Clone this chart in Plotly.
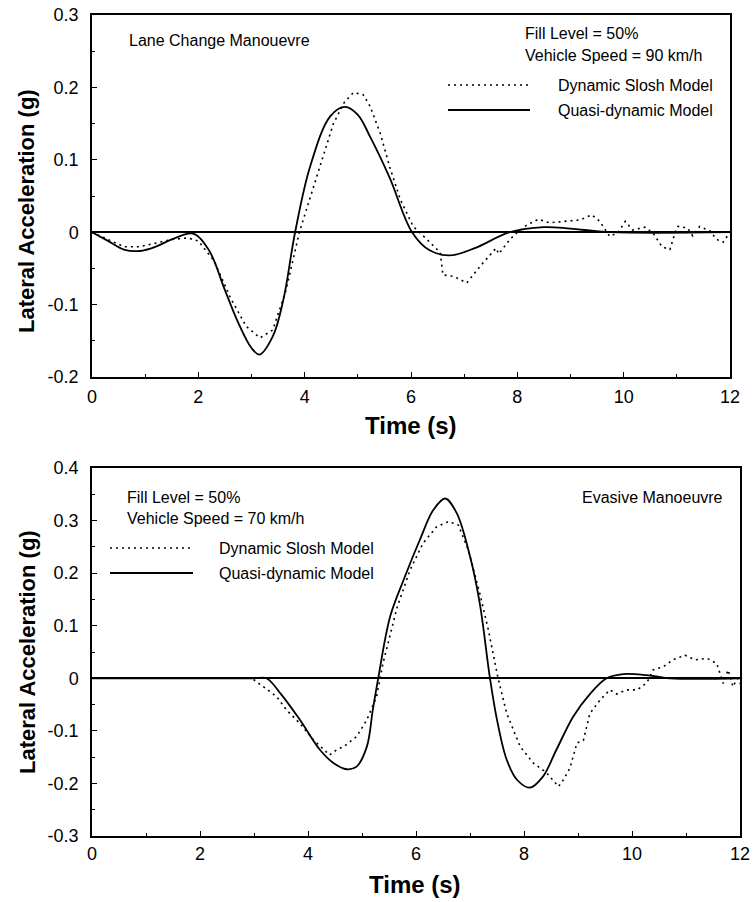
import plotly.graph_objects as go

# ---------------- data ----------------
# Top panel: Lane change manoeuvre, 90 km/h
t_lane_quasi = [0, 0.3, 0.6, 0.9, 1.2, 1.5, 1.9, 2.2, 2.5, 2.75, 3.0, 3.15, 3.4, 3.6, 3.82,
                4.1, 4.48, 4.76, 5.0, 5.23, 5.6, 6.02, 6.35, 6.73, 7.2, 7.86, 8.5, 9.0, 9.75, 12]
a_lane_quasi = [0, -0.012, -0.024, -0.026, -0.02, -0.01, -0.002, -0.025, -0.08, -0.125, -0.16,
                -0.169, -0.144, -0.093, 0, 0.09, 0.16, 0.173, 0.162, 0.132, 0.075, 0, -0.025,
                -0.032, -0.022, 0, 0.007, 0.005, 0, 0]

t_lane_dyn = [0, 0.3, 0.6, 0.9, 1.2, 1.5, 1.8, 2.0, 2.3, 2.6, 2.9, 3.16, 3.4, 3.65, 3.9, 4.23,
              4.54, 4.75, 4.92, 5.1, 5.23, 5.42, 5.6, 5.8, 6.04, 6.3, 6.55, 6.6, 6.8, 7.05, 7.3,
              7.6, 7.65, 7.86, 8.0, 8.18, 8.4, 8.6, 8.93, 9.18, 9.4, 9.55, 9.74, 9.9, 10.03,
              10.17, 10.4, 10.55, 10.72, 10.87, 10.97, 11.02, 11.2, 11.3, 11.43, 11.62, 11.75,
              11.87, 12]
a_lane_dyn = [0, -0.01, -0.02, -0.02, -0.015, -0.01, -0.008, -0.012, -0.04, -0.09, -0.13,
              -0.146, -0.135, -0.08, 0, 0.077, 0.15, 0.18, 0.193, 0.19, 0.174, 0.137, 0.09,
              0.045, 0.008, -0.01, -0.028, -0.059, -0.061, -0.07, -0.047, -0.022, -0.03, -0.01,
              0, 0.01, 0.018, 0.013, 0.015, 0.017, 0.024, 0.015, -0.006, 0, 0.015, 0.003,
              0.007, -0.001, -0.02, -0.024, 0, 0.008, 0.006, -0.005, 0.008, 0.002, -0.01,
              -0.014, 0]

# Bottom panel: Evasive manoeuvre, 70 km/h
t_evas_quasi = [0, 3.0, 3.23, 3.5, 3.85, 4.22, 4.47, 4.72, 4.9, 5.09, 5.2, 5.3, 5.52, 5.77,
                6.07, 6.32, 6.54, 6.75, 7.0, 7.18, 7.37, 7.5, 7.68, 7.87, 8.11, 8.35, 8.6,
                8.91, 9.22, 9.53, 9.84, 10.27, 10.7, 12]
a_evas_quasi = [0, 0, 0, -0.03, -0.079, -0.136, -0.161, -0.173, -0.168, -0.13, -0.06, 0,
                0.117, 0.187, 0.263, 0.32, 0.342, 0.315, 0.232, 0.143, 0, -0.079, -0.155,
                -0.193, -0.208, -0.187, -0.136, -0.073, -0.03, 0, 0.008, 0.006, 0, 0]

t_evas_dyn = [0, 2.96, 3.2, 3.42, 3.6, 3.85, 4.1, 4.4, 4.53, 4.66, 4.9, 5.09, 5.27, 5.39,
              5.65, 5.89, 6.13, 6.38, 6.6, 6.78, 6.97, 7.18, 7.34, 7.52, 7.68, 7.93, 8.17,
              8.42, 8.64, 8.73, 8.85, 8.98, 9.1, 9.22, 9.41, 9.59, 9.72, 9.9, 10.1, 10.28,
              10.39, 10.58, 10.76, 10.98, 11.17, 11.39, 11.57, 11.69, 11.78, 11.87, 11.95, 12]
a_evas_dyn = [0, 0, -0.018, -0.035, -0.06, -0.086, -0.117, -0.146, -0.136, -0.13, -0.111,
              -0.079, -0.035, 0.029, 0.135, 0.206, 0.257, 0.288, 0.298, 0.292, 0.244, 0.162,
              0.092, 0, -0.067, -0.13, -0.161, -0.18, -0.206, -0.193, -0.171, -0.123, -0.118,
              -0.067, -0.041, -0.022, -0.03, -0.022, -0.022, -0.008, 0.016, 0.022, 0.035,
              0.044, 0.035, 0.038, 0.028, -0.01, 0.016, -0.016, 0, -0.01]

x_tickvals = [0, 2, 4, 6, 8, 10, 12]
x_ticktext = ["0", "2", "4", "6", "8", "10", "12"]
y1_tickvals = [-0.2, -0.1, 0, 0.1, 0.2, 0.3]
y1_ticktext = ["-0.2", "-0.1", "0", "0.1", "0.2", "0.3"]
y2_tickvals = [-0.3, -0.2, -0.1, 0, 0.1, 0.2, 0.3, 0.4]
y2_ticktext = ["-0.3", "-0.2", "-0.1", "0", "0.1", "0.2", "0.3", "0.4"]

series_names = ["Dynamic Slosh Model", "Quasi-dynamic Model"]

# ---------------- figure ----------------
W, H = 753, 902
def px(x):
    return x / W
def py(y):
    return 1 - y / H

FONT = "Liberation Sans, Arial, sans-serif"
dotted = dict(color="black", width=1.6, dash="2px,4px")
solid = dict(color="black", width=1.8)

fig = go.Figure()
fig.add_trace(go.Scatter(x=t_lane_dyn, y=a_lane_dyn, mode="lines", line=dotted,
                         xaxis="x", yaxis="y", name=series_names[0], showlegend=False))
fig.add_trace(go.Scatter(x=t_lane_quasi, y=a_lane_quasi, mode="lines", line=solid,
                         line_shape="spline", xaxis="x", yaxis="y", name=series_names[1],
                         showlegend=False))
fig.add_trace(go.Scatter(x=t_evas_dyn, y=a_evas_dyn, mode="lines", line=dotted,
                         xaxis="x2", yaxis="y2", name=series_names[0], showlegend=False))
fig.add_trace(go.Scatter(x=t_evas_quasi, y=a_evas_quasi, mode="lines", line=solid,
                         line_shape="spline", xaxis="x2", yaxis="y2", name=series_names[1],
                         showlegend=False))

tickfont = dict(family=FONT, size=18, color="black")
common_x = dict(range=[0, 12], tickvals=x_tickvals, ticktext=x_ticktext, ticks="inside",
                ticklen=5, tickwidth=1.2, tickcolor="black",
                minor=dict(dtick=1, ticks="inside", ticklen=3, tickcolor="black", tickwidth=1),
                showline=True, linecolor="black", linewidth=1.5, mirror=True,
                showgrid=False, zeroline=False, tickfont=tickfont,
                automargin=False, ticklabeloverflow="allow")
common_y = dict(ticks="inside", ticklen=5, tickwidth=1.2, tickcolor="black",
                showline=True, linecolor="black", linewidth=1.5, mirror=True,
                showgrid=False, zeroline=True, zerolinecolor="black", zerolinewidth=1.5,
                tickfont=tickfont, ticklabelstandoff=8, automargin=False,
                ticklabeloverflow="allow")

fig.update_layout(
    width=W, height=H, margin=dict(l=0, r=0, t=0, b=0, autoexpand=False),
    paper_bgcolor="white", plot_bgcolor="white",
    xaxis=dict(domain=[px(92), px(730)], anchor="y", ticklabelstandoff=3, **common_x),
    yaxis=dict(domain=[py(377), py(15)], anchor="x", range=[-0.2, 0.3],
               tickvals=y1_tickvals, ticktext=y1_ticktext,
               minor=dict(dtick=0.05, tick0=0, ticks="inside", ticklen=3,
                          tickcolor="black", tickwidth=1), **common_y),
    xaxis2=dict(domain=[px(92), px(740)], anchor="y2", ticklabelstandoff=1, **common_x),
    yaxis2=dict(domain=[py(836), py(468)], anchor="x2", range=[-0.3, 0.4],
                tickvals=y2_tickvals, ticktext=y2_ticktext,
                minor=dict(dtick=0.05, tick0=0, ticks="inside", ticklen=3,
                           tickcolor="black", tickwidth=1), **common_y),
    showlegend=False,
)

txt = dict(family=FONT, size=16, color="black")
ann = []
def note(text, x, y, xanchor="left", font=txt, textangle=0):
    ann.append(dict(text=text, x=px(x), y=py(y), xref="paper", yref="paper",
                    xanchor=xanchor, yanchor="middle", showarrow=False, font=font,
                    textangle=textangle))

# axis titles
title_font_y = dict(family=FONT, size=22, color="black", weight="bold")
title_font_x = dict(family=FONT, size=24, color="black", weight="bold")
note("Lateral Acceleration (g)", 27, 211, xanchor="center", font=title_font_y, textangle=-90)
note("Lateral Acceleration (g)", 27, 652, xanchor="center", font=title_font_y, textangle=-90)
note("Time (s)", 411, 425, xanchor="center", font=title_font_x)
note("Time (s)", 415, 884, xanchor="center", font=title_font_x)

# top panel texts
note("Lane Change Manouevre", 127, 41)
note("Fill Level = 50%", 523, 33)
note("Vehicle Speed = 90 km/h", 523, 55)
note(series_names[0], 715, 85, xanchor="right")
note(series_names[1], 715, 110, xanchor="right")

# bottom panel texts
note("Evasive Manoeuvre", 725, 497, xanchor="right")
note("Fill Level = 50%", 125, 497)
note("Vehicle Speed = 70 km/h", 125, 518)
note(series_names[0], 217, 548)
note(series_names[1], 217, 573)

shapes = []
def legline(x0, x1, y, style):
    shapes.append(dict(type="line", xref="paper", yref="paper", x0=px(x0), x1=px(x1),
                       y0=py(y), y1=py(y), line=style))
legline(448, 530, 85, dotted)
legline(448, 530, 110, solid)
legline(110, 193, 548, dotted)
legline(110, 193, 573, solid)

fig.update_layout(annotations=ann, shapes=shapes)
# remove the browser's default 8px body margin so the figure fills the window exactly
fig.write_html("out.html", config={"displayModeBar": False},
               post_script="document.body.style.margin='0';document.body.style.overflow='hidden';")
